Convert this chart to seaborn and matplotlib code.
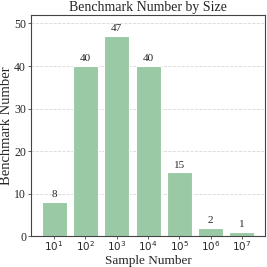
import pandas as pd
import seaborn as sns
import matplotlib.pyplot as plt

sizes = ["$10^{1}$", "$10^{2}$", "$10^{3}$", "$10^{4}$", "$10^{5}$", "$10^{6}$", "$10^{7}$"]
counts = [8, 40, 47, 40, 15, 2, 1]

sns.set_style("white")
plt.rcParams["font.family"] = ["Liberation Serif", "DejaVu Serif"]
plt.rcParams["mathtext.fontset"] = "dejavusans"

data = pd.DataFrame({"size": sizes, "count": counts})

fig, ax = plt.subplots(figsize=(2.67, 2.67), dpi=100)
sns.barplot(data=data, x="size", y="count", color="#9ac9a5", saturation=1,
            width=0.8, edgecolor="white", linewidth=0.8, ax=ax, zorder=2)
for c in ax.containers:
    ax.bar_label(c, fontsize=8, padding=2)
ax.set_xlim(-0.74, 6.74)
ax.set_ylim(0, 52)
ax.set_yticks([0, 10, 20, 30, 40, 50])
ax.yaxis.grid(True, linestyle="--", color="#d8d8d8", linewidth=0.6, zorder=0)
ax.set_axisbelow(True)
for s in ax.spines.values():
    s.set_color("#444444")
    s.set_linewidth(0.8)
ax.tick_params(axis="x", labelsize=7.5, pad=0, length=2, width=0.6, color="#444444", bottom=True)
ax.tick_params(axis="y", labelsize=8.5, pad=1.5, length=2, width=0.6, color="#444444", left=True)
ax.set_xlabel("Sample Number", fontsize=9.5)
ax.set_ylabel("Benchmark Number", fontsize=10.5)
ax.xaxis.set_label_coords(0.5, -0.086)
ax.yaxis.set_label_coords(-0.078, 0.5)
ax.set_title("Benchmark Number by Size", fontsize=10, pad=3)
fig.subplots_adjust(left=0.116, right=0.993, top=0.944, bottom=0.115)
fig.savefig("out.png", dpi=100)
